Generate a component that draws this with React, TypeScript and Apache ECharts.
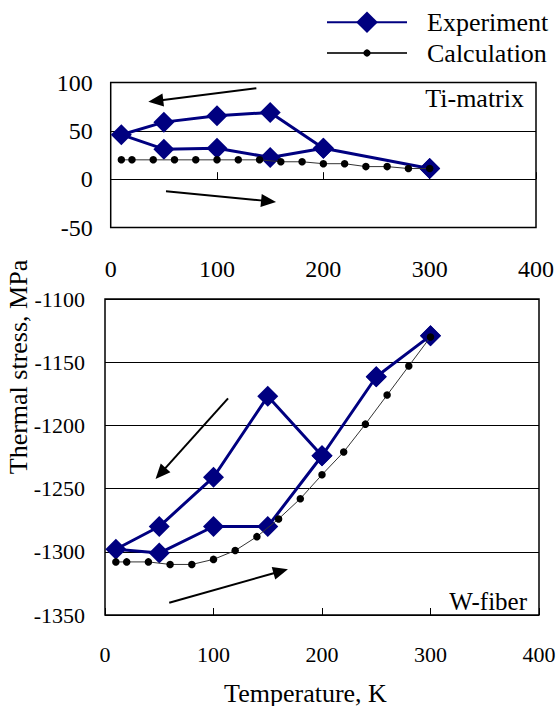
import React, { useEffect, useRef } from "react";
import * as echarts from "echarts";

const FONT = "Liberation Serif";

// Temperature axis ticks (K)
const xTicks = [0, 100, 200, 300, 400];

// Ti-matrix: experiment loop (cooling along upper branch, heating along lower)
const tiExpT = [300, 200, 150, 100, 50, 10, 50, 100, 150, 200, 300];
const tiExpS = [11, 32, 69, 65.5, 59, 46, 31, 32, 22.5, 32, 11];

// Calculation temperatures (K)
const calcT = [10, 20, 40, 60, 80, 100, 120, 140, 160, 180, 200, 220, 240, 260, 280, 300];
const tiCalcS = [20, 20, 20, 20, 20, 20, 20, 20, 18, 18, 16, 16, 13, 13, 11, 11];

// W-fiber: experiment loop
const wExpT = [300, 250, 200, 150, 100, 50, 10, 50, 100, 150, 200, 250, 300];
const wExpS = [-1129, -1161.5, -1224, -1177, -1241, -1280, -1298, -1301, -1280, -1280, -1224, -1161.5, -1129];
const wCalcS = [-1308, -1308, -1308, -1310, -1310, -1306, -1299, -1288, -1274, -1258, -1239, -1221, -1199, -1176, -1153, -1130];

// Annotation arrows in data coordinates: [gridIndex, from, to(tip)]
const arrows: [number, number[], number[]][] = [
  [0, [137, 94], [35.4, 80]],
  [0, [52, -12.4], [155.5, -23.5]],
  [1, [113.4, -1178.6], [46.6, -1242.4]],
  [1, [59.2, -1340.3], [168.6, -1313.8]],
];

const zip = (a: number[], b: number[]) => a.map((v, i) => [v, b[i]]);

export default function App() {
  const ref = useRef<HTMLDivElement>(null);
  useEffect(() => {
    if (!ref.current) return;
    const chart = echarts.init(ref.current, undefined, { renderer: "svg" });
    const xAxisBase = (gridIndex: number, fs: number, margin: number) => ({
      gridIndex,
      type: "value" as const,
      min: xTicks[0],
      max: xTicks[xTicks.length - 1],
      interval: 100,
      axisLine: { show: false },
      axisTick: { show: true, inside: true, length: 7, lineStyle: { color: "#000", width: 1 } },
      axisLabel: { margin, fontSize: fs, color: "#000", fontFamily: FONT, formatter: (v: number) => String(v) },
      splitLine: { show: false },
    });
    const yAxisBase = (gridIndex: number, min: number, max: number, fs: number, margin: number) => ({
      gridIndex,
      type: "value" as const,
      min,
      max,
      interval: 50,
      axisLine: { show: false },
      axisTick: { show: false },
      axisLabel: { margin, fontSize: fs, color: "#000", fontFamily: FONT, formatter: (v: number) => String(v) },
      splitLine: { show: true, lineStyle: { color: "#000", width: 1 } },
    });
    const expSeries = (i: number, data: number[][]) => ({
      name: "Experiment",
      type: "line" as const,
      xAxisIndex: i,
      yAxisIndex: i,
      data,
      symbol: "diamond",
      symbolSize: 21,
      lineStyle: { color: "#000080", width: 3 },
      itemStyle: { color: "#000080" },
      z: 2,
    });
    const calcSeries = (i: number, data: number[][]) => ({
      name: "Calculation",
      type: "line" as const,
      xAxisIndex: i,
      yAxisIndex: i,
      data,
      symbol: "circle",
      symbolSize: 7.5,
      lineStyle: { color: "#333", width: 1 },
      itemStyle: { color: "#000" },
      z: 3,
    });
    const legendText = { fontFamily: FONT, fontSize: 26, color: "#000", padding: [0, 0, 8, 15] };
    chart.setOption({
      animation: false,
      textStyle: { fontFamily: FONT },
      legend: [
        {
          data: ["Experiment"],
          left: 326,
          top: 9.3,
          padding: 0,
          itemWidth: 80,
          itemHeight: 27,
          textStyle: legendText,
        },
        {
          data: ["Calculation"],
          left: 326,
          top: 40,
          padding: 0,
          itemWidth: 80,
          itemHeight: 9,
          textStyle: legendText,
        },
      ],
      grid: [
        { left: 110.7, top: 82.5, width: 425.3, height: 145, show: true, borderColor: "#000", borderWidth: 1.5, containLabel: false, outerBoundsMode: "none" },
        { left: 105, top: 299, width: 434, height: 316, show: true, borderColor: "#000", borderWidth: 1.5, containLabel: false, outerBoundsMode: "none" },
      ],
      xAxis: [xAxisBase(0, 24, 29), xAxisBase(1, 22, 28)],
      yAxis: [yAxisBase(0, -50, 100, 24, 18), yAxisBase(1, -1350, -1100, 22, 20)],
      series: [
        expSeries(0, zip(tiExpT, tiExpS)),
        calcSeries(0, zip(calcT, tiCalcS)),
        expSeries(1, zip(wExpT, wExpS)),
        calcSeries(1, zip(calcT, wCalcS)),
      ],
    });

    const graphics: any[] = [
      {
        type: "text",
        x: 524,
        y: 98,
        style: { text: "Ti-matrix", fontSize: 26, fontFamily: FONT, fill: "#000", align: "right", verticalAlign: "middle" },
      },
      {
        type: "text",
        x: 527,
        y: 601,
        style: { text: "W-fiber", fontSize: 25, fontFamily: FONT, fill: "#000", align: "right", verticalAlign: "middle" },
      },
      {
        type: "text",
        x: 305.5,
        y: 693,
        style: { text: "Temperature, K", fontSize: 26, fontFamily: FONT, fill: "#000", align: "center", verticalAlign: "middle" },
      },
      {
        type: "text",
        x: 18,
        y: 367,
        rotation: Math.PI / 2,
        style: { text: "Thermal stress, MPa", fontSize: 26, fontFamily: FONT, fill: "#000", align: "center", verticalAlign: "middle" },
      },
    ];
    arrows.forEach(([g, from, to]) => {
      const p0 = chart.convertToPixel({ gridIndex: g } as any, from) as number[];
      const p1 = chart.convertToPixel({ gridIndex: g } as any, to) as number[];
      const dx = p1[0] - p0[0];
      const dy = p1[1] - p0[1];
      const len = Math.hypot(dx, dy);
      const ux = dx / len;
      const uy = dy / len;
      const L = 15;
      const W = 6.5;
      const bx = p1[0] - ux * L;
      const by = p1[1] - uy * L;
      graphics.push({
        type: "line",
        shape: { x1: p0[0], y1: p0[1], x2: bx + ux * 2, y2: by + uy * 2 },
        style: { stroke: "#000", lineWidth: 2 },
        z: 10,
      });
      graphics.push({
        type: "polygon",
        shape: {
          points: [
            [p1[0], p1[1]],
            [bx - uy * W, by + ux * W],
            [bx + uy * W, by - ux * W],
          ],
        },
        style: { fill: "#000" },
        z: 10,
      });
    });
    chart.setOption({ graphic: graphics });
    return () => chart.dispose();
  }, []);
  return (
    <div
      ref={ref}
      style={{ position: "fixed", left: 0, top: 0, width: 556, height: 706, background: "#fff" }}
    />
  );
}
